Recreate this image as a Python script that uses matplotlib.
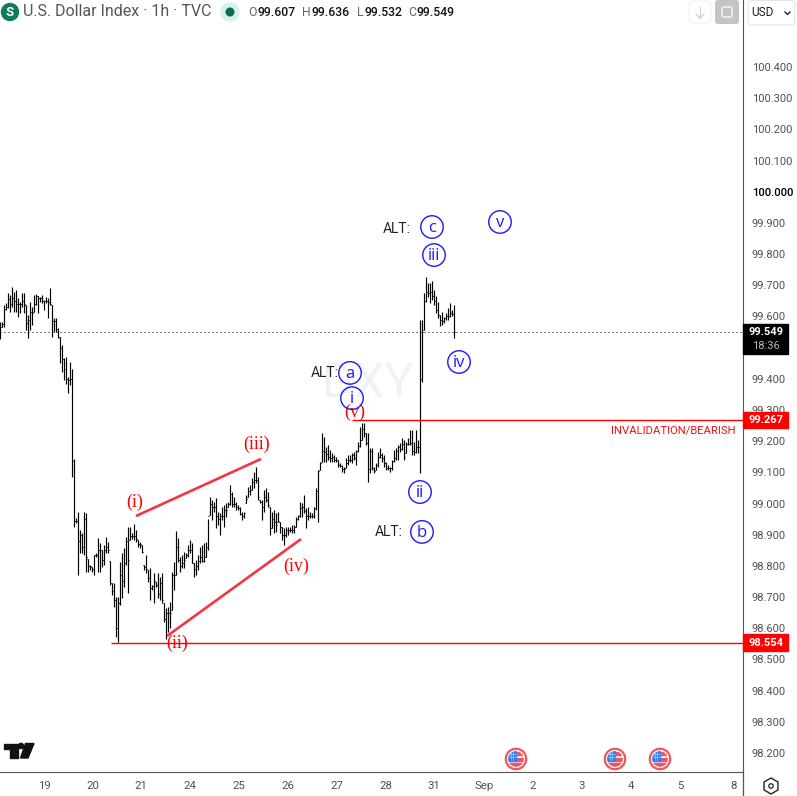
import numpy as np
import matplotlib
matplotlib.use("Agg")
import matplotlib.pyplot as plt
from matplotlib.patches import Circle, Rectangle, FancyBboxPatch, RegularPolygon, Polygon

highs = [99.583,99.583,99.637,99.642,99.674,99.669,99.693,99.679,99.685,99.658,
         99.647,99.674,99.674,99.637,99.605,99.645,99.631,99.669,99.671,99.666,
         99.663,99.669,99.653,99.663,99.658,99.690,99.637,99.594,99.594,99.562,
         99.535,99.508,99.466,99.471,99.407,99.455,99.430,99.142,98.953,98.972,
         98.915,98.904,98.972,98.969,98.821,98.803,98.798,98.835,98.840,98.888,
         98.872,98.851,98.867,98.894,98.878,98.816,98.744,98.744,98.701,98.701,
         98.814,98.840,98.856,98.894,98.926,98.926,98.904,98.934,98.915,98.883,
         98.878,98.867,98.803,98.835,98.787,98.792,98.739,98.776,98.749,98.776,
         98.765,98.776,98.680,98.664,98.669,98.685,98.782,98.814,98.912,98.888,
         98.830,98.835,98.846,98.840,98.867,98.883,98.872,98.808,98.819,98.835,
         98.862,98.867,98.872,98.878,98.952,99.022,99.011,99.006,99.017,98.974,
         98.969,98.990,98.995,99.001,99.006,99.059,99.038,99.022,99.006,98.995,
         98.990,98.974,98.974,99.027,99.054,99.059,99.081,99.102,99.118,99.086,
         99.011,99.011,99.043,99.049,99.038,98.990,98.974,98.979,98.969,98.974,
         98.942,98.926,98.920,98.926,98.926,98.926,98.931,98.931,98.958,98.963,
         99.006,99.001,99.027,98.985,98.990,98.974,98.969,98.990,99.049,99.107,
         99.134,99.227,99.214,99.182,99.188,99.172,99.161,99.156,99.150,99.140,
         99.129,99.124,99.118,99.145,99.156,99.156,99.161,99.166,99.172,99.198,
         99.247,99.257,99.259,99.225,99.225,99.177,99.177,99.118,99.129,99.166,
         99.177,99.161,99.156,99.134,99.124,99.118,99.140,99.172,99.177,99.188,
         99.193,99.209,99.204,99.198,99.209,99.236,99.236,99.198,99.236,99.204,
         99.589,99.589,99.674,99.725,99.706,99.708,99.714,99.685,99.666,99.647,
         99.605,99.615,99.599,99.610,99.626,99.642,99.620,99.636]
lows = [99.527,99.567,99.567,99.621,99.626,99.615,99.631,99.615,99.615,99.599,
        99.610,99.631,99.610,99.557,99.530,99.557,99.573,99.615,99.637,99.610,
        99.647,99.642,99.621,99.642,99.594,99.637,99.535,99.551,99.551,99.530,
        99.450,99.423,99.396,99.385,99.353,99.380,99.086,98.926,98.937,98.771,
        98.840,98.840,98.835,98.782,98.782,98.787,98.782,98.771,98.830,98.782,
        98.782,98.798,98.803,98.840,98.840,98.739,98.707,98.669,98.573,98.557,
        98.675,98.696,98.733,98.803,98.714,98.883,98.885,98.883,98.878,98.862,
        98.856,98.840,98.787,98.776,98.749,98.691,98.723,98.680,98.733,98.696,
        98.691,98.680,98.621,98.565,98.589,98.600,98.659,98.723,98.771,98.814,
        98.782,98.792,98.792,98.824,98.830,98.840,98.808,98.765,98.771,98.787,
        98.808,98.814,98.814,98.830,98.851,98.963,98.947,98.974,98.920,98.931,
        98.899,98.947,98.926,98.958,98.990,98.995,98.990,98.990,98.979,98.979,
        98.963,98.947,98.953,99.001,99.022,99.027,99.043,99.049,99.065,99.011,
        99.001,98.947,98.974,99.006,98.990,98.899,98.920,98.904,98.910,98.942,
        98.904,98.883,98.867,98.894,98.899,98.910,98.904,98.904,98.926,98.947,
        98.958,98.958,98.969,98.920,98.947,98.953,98.953,98.953,98.979,98.942,
        99.107,99.134,99.134,99.134,99.140,99.134,99.134,99.134,99.134,99.118,
        99.118,99.102,99.097,99.113,99.124,99.134,99.129,99.140,99.124,99.166,
        99.182,99.204,99.214,99.188,99.070,99.097,99.107,99.097,99.107,99.118,
        99.145,99.134,99.118,99.107,99.107,99.102,99.107,99.134,99.140,99.140,
        99.166,99.172,99.140,99.161,99.188,99.188,99.156,99.156,99.161,99.161,
        99.097,99.391,99.557,99.647,99.663,99.642,99.653,99.637,99.610,99.594,
        99.569,99.573,99.578,99.589,99.589,99.599,99.600,99.532]
closes = [99.567,99.575,99.625,99.630,99.655,99.640,99.660,99.650,99.640,99.640,
          99.640,99.650,99.640,99.580,99.590,99.615,99.610,99.640,99.665,99.660,
          99.660,99.650,99.650,99.650,99.645,99.640,99.585,99.585,99.560,99.535,
          99.500,99.465,99.430,99.400,99.395,99.400,99.135,98.945,98.945,98.880,
          98.900,98.860,98.950,98.830,98.800,98.800,98.790,98.835,98.835,98.850,
          98.850,98.820,98.850,98.860,98.850,98.745,98.720,98.690,98.600,98.680,
          98.770,98.750,98.810,98.880,98.820,98.895,98.895,98.895,98.885,98.870,
          98.870,98.845,98.795,98.790,98.760,98.730,98.735,98.750,98.740,98.710,
          98.745,98.690,98.630,98.650,98.650,98.650,98.770,98.770,98.860,98.820,
          98.800,98.810,98.820,98.835,98.850,98.850,98.810,98.790,98.800,98.815,
          98.830,98.815,98.830,98.860,98.960,99.000,98.990,98.990,98.960,98.950,
          98.960,98.960,98.980,98.980,99.000,99.030,99.000,99.000,98.990,98.985,
          98.965,98.960,98.970,99.015,99.040,99.045,99.070,99.075,99.075,99.020,
          99.005,98.990,99.020,99.010,98.995,98.920,98.950,98.940,98.930,98.945,
          98.925,98.900,98.900,98.915,98.915,98.915,98.915,98.925,98.950,98.960,
          98.985,98.990,98.975,98.960,98.960,98.960,98.960,98.985,99.040,99.105,
          99.130,99.170,99.165,99.160,99.150,99.145,99.150,99.140,99.140,99.125,
          99.120,99.110,99.110,99.130,99.140,99.140,99.155,99.145,99.170,99.185,
          99.205,99.240,99.225,99.195,99.110,99.170,99.115,99.105,99.125,99.150,
          99.155,99.145,99.130,99.115,99.115,99.115,99.135,99.145,99.170,99.180,
          99.175,99.190,99.150,99.190,99.190,99.195,99.170,99.165,99.180,99.180,
          99.400,99.550,99.650,99.680,99.675,99.680,99.665,99.650,99.620,99.605,
          99.590,99.585,99.595,99.600,99.600,99.610,99.607,99.549]

price_ticks = [100.4,100.3,100.2,100.1,100.0,99.9,99.8,99.7,99.6,99.5,99.4,99.3,99.2,99.1,
               99.0,98.9,98.8,98.7,98.6,98.5,98.4,98.3,98.2]
date_labels = ["19","20","21","24","25","26","27","28","31","Sep","2","3","4","5","8"]
date_pos = [22,46.5,70.5,95,119.5,144,168.5,193,217,242,266.5,291,315.5,340,367]

last_price = 99.549
invalidation = 99.267
low_level = 98.554

red_labels = ["(i)","(ii)","(iii)","(iv)","(v)"]
red_x = [67.5,88.5,128.5,148,177.5]
red_y = [99.004,98.552,99.190,98.800,99.294]

blue_labels = ["c","iii","v","a","i","iv","ii","b"]
blue_x = [216,217,250,175,176,229.5,210,211]
blue_y = [99.887,99.797,99.903,99.419,99.338,99.454,99.037,98.909]

wedge_x = [[68,130.5],[83.5,150.5]]
wedge_y = [[98.960,99.143],[98.575,98.886]]

plt.rcParams['font.family'] = ['Roboto', 'DejaVu Sans']
fig = plt.figure(figsize=(7.97,7.96), dpi=100)
ax = fig.add_axes([0, 24/796, 743/797, 772/796])
ax.set_xlim(0, 371.5)
ax.set_ylim(98.139, 100.615)

idx = np.arange(len(highs))
highs = np.array(highs)
lows = np.array(lows)
closes = np.array(closes)
opens = np.clip(np.r_[closes[0], closes[:-1]], lows, highs)

# watermark goes under the bars
ax.text(184, 99.385, "DXY", color="#f2f2f2", fontsize=35, ha="center", va="center", zorder=0)

ax.vlines(idx, lows, highs, color="black", lw=0.85, zorder=3)
ax.hlines(closes, idx, idx+0.6, color="black", lw=0.72, zorder=3)
ax.hlines(opens, idx-0.6, idx, color="black", lw=0.72, zorder=3)

ax.axhline(last_price, color="black", lw=0.72, ls=(0,(1,3)), zorder=2)
ax.hlines(invalidation, 176, 371.5, color="#ff0000", lw=1, zorder=4)
ax.hlines(low_level, 55.5, 371.5, color="#ff0000", lw=1, zorder=2)

for xs, ys in zip(wedge_x, wedge_y):
    ax.plot(xs, ys, color="#f23645", lw=1.9, solid_capstyle="butt", zorder=4)

for lab, x, y in zip(red_labels, red_x, red_y):
    ax.text(x, y, lab, color="#ff0000", fontsize=13, family="Liberation Serif",
            ha="center", va="center", zorder=5)

ax.scatter(blue_x, blue_y, s=(22.5*0.72)**2, facecolors="none", edgecolors="#1a1aff", linewidths=1.0, zorder=5)
for lab, x, y in zip(blue_labels, blue_x, blue_y):
    ax.text(x, y-0.003, lab, color="#1a1aff", fontsize=12, family="Open Sans", ha="center", va="center", zorder=6)

ax.text(198.5, 99.880, "ALT:", color="#222222", fontsize=10, ha="center", va="center", zorder=5)
ax.text(162.5, 99.419, "ALT:", color="#222222", fontsize=10, ha="center", va="center", zorder=5)
ax.text(194.5, 98.909, "ALT:", color="#222222", fontsize=10, ha="center", va="center", zorder=5)
ax.text(368, 99.235, "INVALIDATION/BEARISH", color="#ee1111", fontsize=8.1,
        ha="right", va="center", zorder=5)

ax.yaxis.tick_right()
ax.set_yticks(price_ticks)
ax.set_yticklabels([f"{p:.3f}" for p in price_ticks])
ax.tick_params(axis="y", length=0, pad=6.4, labelsize=8.0, labelcolor="#505050")
ax.set_xticks(date_pos)
ax.set_xticklabels(date_labels)
ax.tick_params(axis="x", length=0, pad=6.5, labelsize=8.2, labelcolor="#505050")
for lab in ax.get_yticklabels():
    if lab.get_text() == "100.000":
        lab.set_color("black")
        lab.set_fontweight("medium")
ax.spines["top"].set_visible(False)
ax.spines["left"].set_visible(False)
ax.spines["right"].set_color("#555555")
ax.spines["bottom"].set_color("#555555")

# price tags on the scale
ytr = ax.get_yaxis_transform()
for price, col in [(invalidation,"#ff0000"),(low_level,"#ff0000")]:
    ax.add_patch(Rectangle((1.0, price-0.026), 45/743, 0.052, color=col, transform=ytr, clip_on=False, zorder=7))
    ax.text(1.0+23/743, price, f"{price:.3f}", color="white", fontsize=8.0, fontweight="bold",
            ha="center", va="center", transform=ytr, zorder=8)
ax.add_patch(Rectangle((1.0, last_price-0.07), 45/743, 0.096, color="black", transform=ytr, clip_on=False, zorder=7))
ax.text(1.0+23/743, last_price, f"{last_price:.3f}", color="white", fontsize=8.0, fontweight="bold",
        ha="center", va="center", transform=ytr, zorder=8)
ax.text(1.0+23/743, last_price-0.043, "18:36", color="#b8b8b8", fontsize=8.0,
        ha="center", va="center", transform=ytr, zorder=8)

# header, buttons and logos in pixel space
ov = fig.add_axes([0,0,1,1], facecolor="none")
ov.set_xlim(0,797)
ov.set_ylim(796,0)
ov.axis("off")

ov.add_patch(Circle((10,12), 8.5, color="#0e7a60"))
ov.text(10,12,"S",color="white",fontsize=9.5,fontweight="bold",ha="center",va="center")
ov.text(23,12,"U.S. Dollar Index · 1h · TVC",color="#555555",fontsize=11.5,ha="left",va="center")
ov.add_patch(Circle((230,12), 9, color="#d8efea"))
ov.add_patch(Circle((230,12), 3.8, color="#0b6b57"))
for xx, letter, val, off in [(248,"O","99.607",10),(302,"H","99.636",10),(357,"L","99.532",7.5),(408,"C","99.549",9)]:
    ov.text(xx,12,letter,color="#666666",fontsize=8.8,ha="left",va="center")
    ov.text(xx+off,12,val,color="#111111",fontsize=8.8,fontweight="medium",ha="left",va="center")

ov.add_patch(FancyBboxPatch((689,1),22,22,boxstyle="round,pad=0,rounding_size=3",fc="white",ec="#f2f2f2",lw=0.8))
ov.plot([700,700],[7,18],color="#cccccc",lw=0.8)
ov.plot([696,700,704],[14,18,14],color="#cccccc",lw=0.8)
ov.add_patch(FancyBboxPatch((715,0),24,24,boxstyle="round,pad=0,rounding_size=3",fc="#c4c4c4",ec="none"))
ov.add_patch(FancyBboxPatch((722,7),10,10,boxstyle="round,pad=0,rounding_size=2",fc="none",ec="white",lw=0.9))
ov.add_patch(FancyBboxPatch((748,0.5),47,24.5,boxstyle="round,pad=0,rounding_size=3",fc="white",ec="#e6e6e6",lw=0.8))
ov.text(751,12.5,"USD",color="#222222",fontsize=8.6,ha="left",va="center")
ov.plot([785,787.5,790],[12,14.5,12],color="#222222",lw=1)

ov.plot([743,743],[772,796],color="#555555",lw=0.9)
ov.add_patch(RegularPolygon((771,786),6,radius=8,orientation=0,fc="white",ec="#222222",lw=1))
ov.add_patch(Circle((771,786),2.2,fc="white",ec="#222222",lw=0.9))

# tradingview mark
ov.add_patch(Polygon([(4,743.5),(18,743.5),(18,758),(10,758),(10,749),(4,749)],color="#111111"))
ov.add_patch(Circle((21,746),2.6,color="#111111"))
ov.add_patch(Polygon([(25.5,743.5),(34,743.5),(28,758),(20.5,758)],color="#111111"))

# economic event flags
for fx in [516,615,660]:
    ov.add_patch(Circle((fx,759),10.2,fc="white",ec="#f2545f",lw=1.6))
    inner = Circle((fx,759),7.8,fc="none",ec="none")
    ov.add_patch(inner)
    stripes = [Rectangle((fx,752),8,3,color="#f2545f"),
               Rectangle((fx,757.5),8,3,color="#f2545f"),
               Rectangle((fx-8,763),16,4,color="#f2545f"),
               Rectangle((fx-8,751),8.5,10,color="#2f80ed")]
    for st in stripes:
        ov.add_patch(st)
        st.set_clip_path(inner)
    for g in [fx-5,fx-2.5]:
        ov.plot([g,g],[752,760],color="#bcd8ff",lw=0.4)
    ov.plot([fx-7,fx],[754,754],color="#bcd8ff",lw=0.4)
    ov.plot([fx-7,fx],[757,757],color="#bcd8ff",lw=0.4)

fig.savefig("out.png", dpi=100, facecolor="white")
